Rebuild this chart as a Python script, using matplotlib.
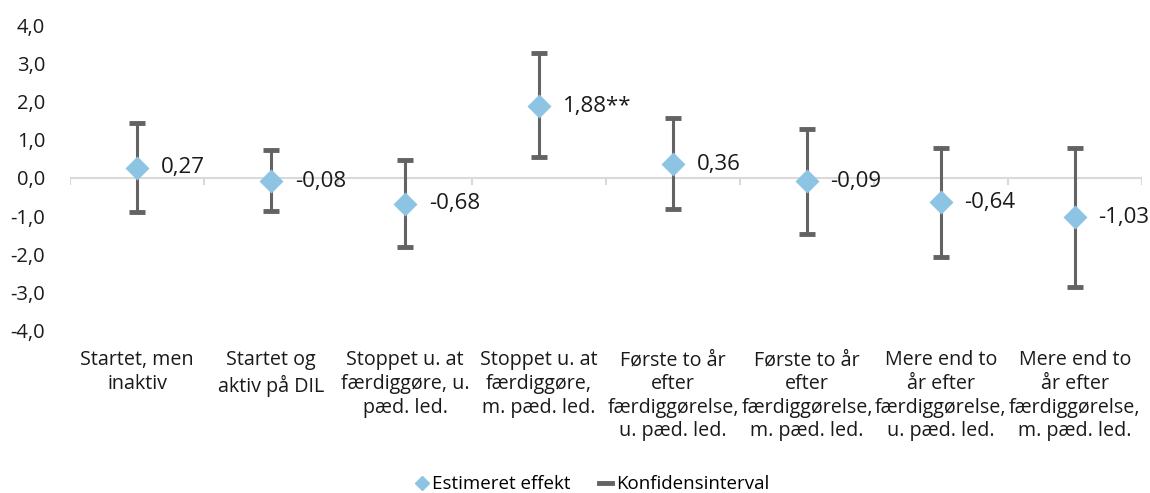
import numpy as np
import matplotlib
matplotlib.use('Agg')
import matplotlib.pyplot as plt
from matplotlib.lines import Line2D

plt.rcParams['font.family'] = ['Open Sans', 'DejaVu Sans']

categories = [
  "Startet, men\ninaktiv",
  "Startet og\naktiv på DIL",
  "Stoppet u. at\nfærdiggøre, u.\npæd. led.",
  "Stoppet u. at\nfærdiggøre,\nm. pæd. led.",
  "Første to år\nefter\nfærdiggørelse,\nu. pæd. led.",
  "Første to år\nefter\nfærdiggørelse,\nm. pæd. led.",
  "Mere end to\når efter\nfærdiggørelse,\nu. pæd. led.",
  "Mere end to\når efter\nfærdiggørelse,\nm. pæd. led.",
]
effects = [0.27, -0.08, -0.68, 1.88, 0.36, -0.09, -0.64, -1.03]
ci_low = [-0.89, -0.86, -1.80, 0.55, -0.81, -1.46, -2.06, -2.85]
ci_high = [1.44, 0.73, 0.47, 3.26, 1.57, 1.28, 0.78, 0.78]
value_labels = ["0,27", "-0,08", "-0,68", "1,88**", "0,36", "-0,09", "-0,64", "-1,03"]
y_ticks = [-4, -3, -2, -1, 0, 1, 2, 3, 4]

blue = '#8DC3E3'
grey = '#636363'
txt = '#1a1a1a'

x = np.arange(len(categories))
eff = np.array(effects)
yerr = [eff - np.array(ci_low), np.array(ci_high) - eff]

fig = plt.figure(figsize=(11.5, 4.93), dpi=100)
ax = fig.add_axes([0.061, 0.329, 0.932, 0.620])

ax.errorbar(x, eff, yerr=yerr, fmt='none', ecolor=grey, elinewidth=2.2,
            capsize=5.5, capthick=3.5, zorder=2)
ax.scatter(x, eff, marker='D', s=150, color=blue, zorder=3, linewidths=0)

for xi, yi, lab in zip(x, eff, value_labels):
  ax.annotate(lab, (xi, yi), xytext=(17, 0), textcoords='offset points',
              va='center', ha='left', fontsize=16, color=txt)

# zero line with category boundary ticks
ax.axhline(0, color='#d9d9d9', lw=1.5, zorder=1)
for b in np.arange(len(categories) + 1) - 0.5:
  ax.plot([b, b], [0, -0.17], color='#d9d9d9', lw=1.5, zorder=1)

ax.set_xlim(-0.5, len(categories) - 0.5)
ax.set_ylim(-4, 4)
ax.set_yticks(y_ticks)
ax.set_yticklabels([f"{t:.1f}".replace('.', ',') for t in y_ticks], fontsize=14.5, color=txt)
ax.set_xticks(x)
ax.set_xticklabels(categories, fontsize=14.2, color=txt, linespacing=1.25, va='top')
ax.tick_params(axis='both', length=0)
ax.tick_params(axis='x', pad=14)
ax.tick_params(axis='y', pad=18)
for s in ax.spines.values():
  s.set_visible(False)

handles = [
  Line2D([], [], marker='D', color=blue, linestyle='none', markersize=7),
  Line2D([], [], color=grey, lw=3.5, marker=None),
]
fig.legend(handles, ['Estimeret effekt', 'Konfidensinterval'], loc='lower center',
           bbox_to_anchor=(0.515, -0.035), ncol=2, frameon=False, fontsize=13.5,
           handlelength=0.7, handletextpad=0.2, columnspacing=1.5)

fig.savefig('out.png', dpi=100)
